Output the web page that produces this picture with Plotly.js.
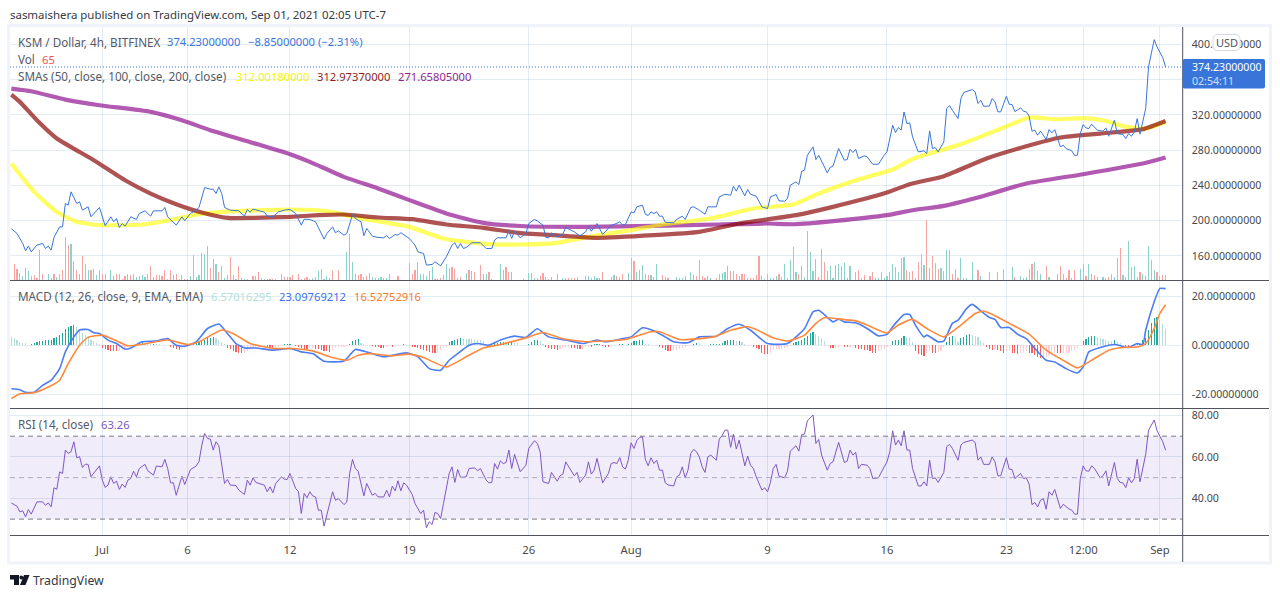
<!DOCTYPE html>
<html>
<head>
<meta charset="utf-8">
<script src="https://cdn.plot.ly/plotly-3.0.1.min.js"></script>
<style>html,body{margin:0;padding:0;background:#fff}#c{width:1280px;height:598px}</style>
</head>
<body>
<div id="c"></div>
<script>
// ---------- data (bar = 4h candle number, bar 0 = 2021-06-25 16:00) ----------
const priceBars=[0,2,4,5,6,7,9,11,12,13,14,15,17,18,19,20,21,23,24,25,27,28,31,33,35,36,37,38,39,40,42,44,45,47,49,50,53,54,55,58,60,61,63,65,66,68,70,71,72,73,74,75,77,80,82,83,84,85,89,90,92,94,96,98,100,102,103,105,107,108,110,111,113,114,115,117,118,120,121,123,124,125,127,129,131,132,133,135,136,137,138,140,142,143,145,146,148,149,151,153,155,156,157,158,159,160,162,165,167,169,170,171,174,175,176,177,179,181,182,184,185,187,188,189,190,192,194,195,198,200,202,203,204,206,208,211,212,214,215,216,218,219,220,222,223,224,225,226,227,228,229,230,233,234,236,237,239,240,242,244,245,248,249,251,253,254,255,256,258,259,260,262,264,266,267,269,270,272,273,274,276,277,278,279,280,282,283,284,287,288,289,291,293,294,295,296,297,298,300,301,303,305,307,308,310,311,312,313,314,315,316,317,319,321,322,323,324,325,326,328,329,330,331,333,334,335,338,339,340,341,342,344,345,346,347,348,350,351,352,353,355,356,357,358,359,360,361,362,364,365,366,367,369,370,371,373,374,375,376,377,378,379,380,382,384,385,386,388,389,391,392,393,394,395,396,397,399,400,402,403,405,406];
const priceVals=[191,185.5,174.2,165.9,171.2,164.7,172.3,174.2,168.5,171.2,166.6,181,193,193,219.5,217.6,232.7,219.5,221.4,212,215.7,204.4,215,194.2,204.4,198.7,202.5,192.3,196.8,193.8,204.4,201.4,208.2,211.2,205.2,211.2,211.2,215,204.4,195,204.4,199.9,208.2,212,215,237.6,235.7,235.7,230.8,238.4,230.8,215,212,211.2,205.2,212.7,209.7,213.1,209.7,205.2,204.4,210,212,212.7,208.2,195,201.8,201.4,198.7,192.3,179.1,185.5,193,186.3,188.5,183.6,185.5,207,202.5,198.7,182.9,191.2,182.5,181,180.6,183.2,179.8,184.4,183.6,186.3,184.4,179.8,172.3,164.7,162.8,149.6,150.4,153.4,148.9,159.1,172.3,175,168.5,174.2,168.5,169.6,175,175,168.5,168.5,178,180.6,180.6,188.5,179.8,188.2,180.6,185.5,196.8,201.4,199.8,194.9,181,180.6,186.2,181.7,184.7,192.3,187.4,182.8,187.4,193.8,188.1,196.8,184.4,194.9,195.7,198.7,194.9,195.7,210,208.9,215.7,217.6,207.4,205.9,210,208.1,210,205.1,205.1,198.3,197.6,201.4,205.1,201.4,215,215.7,211.9,207.4,215.7,215.7,227,230,228.9,239.1,233.5,240.3,228.2,235.3,230,227.8,215.7,213.8,227,229.7,222.5,222.1,225.1,240.3,244,241,256.1,257.3,274.2,283.7,269.3,274.2,254.2,260.3,261.8,281.8,268.6,269.3,281,277.3,281,270.5,273.5,272.4,264,264,274.2,278,308.2,299.9,305.6,302.6,323.3,310.1,310.9,295,278,279.2,276.1,301.8,281.8,282.9,278,289.4,327.1,330.5,325.2,315.8,338.5,345.3,348.7,346,332.8,336.6,329.8,329.8,338.5,334.7,323.4,323.4,341.1,332,331.7,323.7,327.9,324.1,323.4,318.5,301.5,302.6,297,301.5,292,303.3,299.6,303.3,283.7,285.6,281.8,279.2,273.9,274.3,298.8,309,305.2,304.5,309.4,302.6,301.5,305.2,295.8,313.9,298.8,297.7,293.1,298.8,295.8,300.7,315.8,298.1,327.1,374.4,405.3,397,384.9,374.23];

const sma50Bars=[0,8,16,23,31,46,57,66,78,98,111,123,140,152,160,170,179,192,201,218,229,246,261,275,284,299,310,317,334,349,358,367,377,384,392,399,406];
const sma50Vals=[264.8,232.7,210,198.7,195,195.7,201.4,207.4,210.8,212.7,210.8,202.5,193,179.8,176,173,173,174.9,180.6,189.3,195.7,202.5,213.8,218.3,230.8,247.8,258,270,286.7,305.6,317,315,316.2,313.9,306.4,304.5,312];
const sma100Bars=[0,3,9,16,29,40,49,58,67,76,85,98,108,117,129,141,153,166,179,191,206,226,242,256,276,289,308,316,328,343,357,369,383,398,406];
const sma100Vals=[343,334.7,313.9,293.2,268.6,245.9,230.8,218.7,209.3,203.2,203.2,204.4,206.3,207,203.6,201.7,195.7,191.9,185.9,183.6,180.6,183.6,187.4,196.8,206.3,215.7,231.9,241.4,250.5,270.5,284.4,294.3,298.8,303.7,312.97];
const sma200Bars=[0,7,19,31,49,60,70,85,98,105,117,129,140,153,166,179,202,226,249,266,275,290,308,317,328,340,357,377,398,406];
const sma200Vals=[349.8,346.8,337.3,330.9,323.4,313.9,302.6,288.2,275.4,266.7,249.7,236.5,223.3,208.2,197.6,194,193,194.2,195.7,196.8,196,199.8,206.3,211.9,216.8,226.3,242.1,252.7,264.8,271.66];

const volUpBars=[4,6,7,10,13,16,17,19,21,22,26,27,29,30,35,36,41,43,44,46,47,48,50,52,59,60,62,63,64,65,66,67,68,72,75,76,79,81,82,83,86,89,93,97,105,106,108,110,111,118,119,120,127,128,129,130,132,133,143,144,145,146,148,150,153,157,160,166,167,172,173,182,183,184,185,190,194,195,199,202,203,205,206,211,212,217,218,220,221,222,225,227,234,235,236,239,240,245,246,249,250,251,254,256,265,267,268,269,271,272,273,274,275,276,278,279,280,281,282,288,289,290,291,293,295,297,304,305,306,307,308,309,310,312,314,316,318,321,323,325,327,328,329,330,334,335,336,338,341,344,349,352,355,356,357,360,362,365,370,373,376,377,379,384,385,387,388,391,393,395,398,399,400,401,402];
const volUpVals=[52,121,52,390,78,43,78,563,468,251,217,130,152,65,139,52,87,78,43,65,43,87,43,65,22,65,22,52,325,43,65,355,338,217,35,65,22,35,22,22,52,22,22,43,22,35,121,22,52,368,606,238,43,35,35,43,35,78,238,87,78,52,173,22,217,35,95,78,78,208,130,95,95,30,30,39,30,30,43,61,61,61,30,43,74,95,294,108,130,203,74,216,43,30,30,113,74,61,30,82,95,113,126,61,17,30,30,61,43,216,30,268,437,113,182,43,645,372,126,182,30,203,216,225,190,108,30,30,113,30,52,113,216,113,303,113,30,203,165,225,165,126,398,398,294,30,30,242,52,104,152,173,52,35,43,234,78,43,87,35,152,208,217,43,35,78,43,65,511,182,78,61,442,260,139];
const volDownBars=[1,2,3,5,8,9,11,14,15,18,20,23,24,25,28,31,32,33,37,38,39,40,42,45,49,51,53,54,55,56,57,58,61,69,70,71,73,74,77,78,80,85,87,88,90,91,92,95,96,98,99,101,102,103,104,107,109,112,113,115,121,122,123,124,125,126,131,136,140,141,142,147,149,151,152,154,155,156,158,161,162,163,165,168,169,174,175,176,180,186,187,188,189,192,196,197,198,204,207,208,213,214,215,219,223,224,226,229,230,231,237,241,242,243,244,248,252,253,255,257,258,259,260,261,262,263,264,266,270,277,283,284,285,286,287,292,294,298,299,300,302,303,311,313,315,317,319,320,322,324,326,331,332,333,340,347,353,358,359,361,364,368,369,371,372,374,378,380,381,382,386,389,390,392,394,396,397,403,404,405,406];
const volDownVals=[208,152,95,160,65,35,78,30,87,139,455,130,87,312,130,130,78,78,87,78,22,52,65,52,182,65,52,130,22,139,65,78,22,442,165,281,108,182,303,65,182,52,108,35,22,22,22,78,43,43,65,78,22,30,43,43,152,35,130,130,87,65,87,43,52,95,35,52,225,87,139,121,22,35,65,165,173,152,43,130,121,108,195,108,22,173,108,108,17,61,95,43,26,87,30,30,30,30,30,113,52,39,87,255,82,74,43,74,39,30,52,52,268,52,30,30,182,126,87,87,87,30,30,30,74,320,52,87,87,87,277,43,411,242,126,190,30,139,30,74,61,113,178,286,139,117,242,346,788,320,147,87,147,30,139,104,43,152,217,121,182,87,190,35,139,139,52,87,65,43,43,286,424,43,173,43,104,104,52,65,65];

const macdBars=[0,3,5,8,11,14,17,19,22,24,27,29,31,34,37,40,42,46,51,55,58,61,65,69,73,76,79,82,86,92,98,102,106,110,117,121,126,131,139,143,147,151,154,157,161,164,168,172,177,181,185,189,195,201,206,209,215,218,222,226,230,233,238,242,248,252,256,260,266,273,279,282,284,289,291,293,297,301,305,308,310,312,314,316,318,321,322,326,328,331,333,336,338,341,344,346,348,351,354,357,360,364,367,371,375,377,379,383,388,393,396,398,399,402,404,406];
const macdVals=[-17.6,-18,-19,-19,-16.2,-14.1,-9.4,-2.6,3.5,6.3,6.5,5.2,4.9,2.2,.8,-1.5,-1,1.5,1.8,2.8,.1,-.3,1.5,6.9,8.7,4.9,.8,-1,-1,-1.9,-1.2,-2.6,-3.3,-6.4,-6.3,-1.6,-3,-4.6,-3,-4.6,-9.4,-10.1,-6,-3.3,.1,.8,.1,2.2,3.8,3.3,6.8,3.5,2.2,.8,2.2,1.5,2.8,3.5,7.2,6,3.5,1.5,1.1,3.5,3.8,6.9,8.6,6.2,.8,.8,6.9,13.7,14.3,9.6,10.7,9.6,9.2,6.9,3.9,4.5,7.6,10.3,12.6,12.6,8.3,3.5,4.2,1.5,1.8,9,10.3,15,16.7,14.1,11.4,10.6,7.3,7.3,4.5,2.8,-1.2,-6,-6.7,-9.4,-11.2,-8.7,-2.6,-.8,.4,-.8,.8,.4,6.2,17.8,23.2,23.1];
const signalBars=[0,3,8,13,17,20,24,27,32,36,41,46,55,62,66,74,78,84,92,99,106,113,118,122,126,134,140,145,153,160,166,172,181,187,194,202,209,216,225,228,235,240,247,253,259,262,268,273,279,283,286,293,297,301,308,312,317,322,328,334,339,342,346,351,358,364,371,375,380,386,391,396,399,402,404,406];
const signalVals=[-21.6,-19.6,-19.2,-16.9,-14.1,-7.4,.1,3.3,4.2,2.4,-.1,.5,2.2,.4,1.5,6.3,4.9,.8,-1.2,-1.2,-2.2,-4.9,-6,-4,-3.3,-4.2,-3.5,-4.9,-8.7,-4.6,-1,.4,3.1,5.3,2.7,1.5,1.8,2.4,5.6,5.6,2.4,2.6,3.5,6.2,7.6,6.5,3.1,1.8,4.2,9,11.3,10.5,10,8.3,5.1,8.3,10.6,6.9,3.5,8.3,13,14,12.1,9,4.6,-1.9,-6.7,-9.1,-6,-1.9,-.8,-.6,.8,6.9,13,16.53];
// one histogram value per bar, bar 0 .. bar 406
const macdHist=[3.3,2.9,2.2,1.5,1.2,1,.4,.8,1.1,1.5,
1.8,2,2.05,2.2,2.3,2.9,3.3,4.2,4.9,6.5,
7.6,8,8.3,7.6,6.5,5.2,4.2,3.3,2.4,1.8,
1.2,.8,-1.1,-1.5,-1.9,-2.2,-2.25,-2.3,-2.2,-1.8,
-1.5,-.5,-.2,.4,.8,1.1,1.4,1.2,1.1,.8,
.8,.7,.5,.4,.4,.2,-.5,-1.1,-1.6,-1.7,
-1.5,-1.2,-.3,.5,.8,1.1,1.5,2.2,2.4,2.9,
3.1,3.3,3,2.4,1.5,.8,-1.1,-1.6,-2.2,-2.6,
-2.9,-3,-2.9,-2.2,-1.6,-1.2,-.8,-.5,-.4,-.3,
-.5,-1.2,-1.6,-1.4,-.5,.3,.5,.5,.6,.3,
-.3,-.8,-1.2,-1.4,-1.6,-1.2,-1.1,-1.5,-1.6,-1.9,
-2.3,-2.4,-2.5,-1.9,-1.2,-.6,-.6,-.5,-.4,.8,
1.8,2.2,2.6,1.2,.8,.4,.3,-.3,-.5,-.8,
-.95,-1,-.7,-.3,-.5,-.2,.3,.35,.5,.4,
.4,-.5,-.8,-1.1,-1.5,-1.8,-2.2,-2.7,-3,-3.1,
-2.6,-1.9,-1.2,-.5,1.5,1.8,2.2,2.6,2.9,2.8,
2.7,2.65,2.6,2.4,2.3,2.2,1.9,.8,.5,.55,
1.1,1.2,1.4,1.5,1.3,1.5,1.6,1.2,1.1,.4,
.15,.15,.5,1.5,2.2,2.25,1.8,.8,-.8,-1.2,
-1.25,-1.6,-1.65,-1.6,-1.2,-.6,-.55,-1,-1.2,-1.25,
-1.3,-1.3,-.6,-.5,-.8,.5,.55,.6,-.3,-.55,
-.6,.3,.4,.4,.45,.45,.4,.5,1.1,1.8,
1.9,2.2,2.25,.8,.5,.4,.15,.1,-.7,-1,
-1.8,-2.2,-2.25,-2,-1.9,-1.5,-1,-.5,-.2,.4,
.8,1,.8,.4,.3,.15,.5,.55,.6,.7,
1.1,1.8,2.2,2.25,2.3,1.8,1.9,1.5,.8,.4,
.15,-.6,-1.2,-1.6,-2.9,-3.3,-3.4,-2.9,-1.9,-1.5,
-1.45,-1.4,-1.2,-.9,-.3,1.1,1.5,1.9,2.4,3.1,
3.9,5,5.6,4.5,4,2.9,1.8,.2,-.9,-1.2,
-1.1,-.9,.2,-.7,-.75,-.7,-.4,-1.1,-1.3,-1.6,
-1.8,-2,-2.4,-3,-3.1,-2.4,-2,-1.4,-.7,-.2,
1.9,2.3,2.4,3,3.9,3.4,3,1.6,-2.4,-3.4,
-3.8,-4.1,-3.1,-2.4,-3.1,-3.15,-2.7,-2.2,-.5,1.4,
3.3,3.9,3.6,1.6,3,3.3,4.4,4.6,4.4,3.9,
3.3,1.9,1.2,-.7,-1.5,-2,-1.4,-1.8,-2.4,-3.1,
-2.4,-2.4,-3.1,-3.15,-3.3,-3.1,-2.7,-2.4,-3.1,-3.15,
-4,-4.5,-4.9,-4.85,-4.5,-3.8,-3.5,-3.1,-3.15,-3.2,
-3.1,-3.05,-2.9,-2.4,-1.8,-1.1,-.3,1.9,2.7,3.3,
3.8,4,3.4,3,2.7,2.3,1.9,1.8,2.3,1.6,
1,.3,-.3,-.8,-.55,-.5,.55,.7,2.3,3,
6.4,9.1,11.2,11.6,10.5,8.9,6.57];

const rsiBars=[0,2,3,4,5,6,7,9,11,12,13,14,15,16,17,18,19,20,21,22,23,24,25,26,27,28,31,32,33,34,35,36,37,38,39,40,41,42,43,44,45,47,48,50,51,53,54,55,56,57,58,60,61,63,65,66,67,68,69,70,71,72,73,74,75,76,77,79,80,82,83,84,85,86,89,90,91,92,93,95,96,97,98,100,101,102,103,104,105,106,107,108,109,110,113,114,115,117,118,119,120,121,122,124,125,127,128,129,131,132,133,134,135,136,137,138,139,141,142,144,145,146,147,148,149,150,151,152,154,155,156,157,158,160,161,163,164,165,167,168,169,170,171,172,173,174,175,176,177,179,181,182,184,185,186,187,189,190,192,193,194,195,198,199,200,202,203,204,205,206,208,210,211,212,213,214,215,216,217,218,219,220,221,222,223,224,225,226,227,228,229,230,231,233,234,235,236,237,238,239,240,241,242,243,244,245,246,248,249,250,251,252,253,254,255,256,258,259,260,261,262,264,265,266,267,268,269,270,272,273,274,276,277,278,279,280,282,283,284,285,287,288,289,291,293,294,295,296,297,298,299,301,302,303,305,307,308,309,310,311,312,313,314,315,316,317,319,320,321,322,323,324,325,326,328,329,330,331,333,334,335,338,339,340,341,342,344,345,346,347,348,350,351,352,353,355,356,357,358,359,360,361,362,363,364,365,366,367,369,370,372,373,374,375,376,377,378,379,380,381,383,384,385,386,388,389,390,391,392,393,394,395,396,397,399,400,402,403,405,406];
const rsiVals=[37.8,36.2,33.5,34,31.1,34.6,32.4,38.3,38.3,36.7,37.8,35.9,45.1,44.4,52.8,52,63.3,61.7,62.5,67.3,59.6,60.1,54.9,56.5,56.4,50.4,55.7,48.8,45.3,46.4,50.4,47.2,48.3,44.3,46.9,45.3,48.8,49.6,53.1,50.4,54.4,56.4,53.3,51.2,55.6,55.2,58.8,54.4,47.5,47.5,41.5,50.7,46.7,53.9,55.6,57.7,65.7,71.3,68.9,68.6,63.3,67.3,65.4,56.8,47.2,49.1,46.4,46.2,44,41.9,48.8,46.4,49.9,47.7,46.4,43.2,45.6,42.7,47.2,50.4,49.3,49.1,52,44.8,43.2,32.7,42.4,40.3,43.2,41.2,40.7,34.3,34.3,26.6,43.2,39.1,39.9,37,38.3,52,58.8,54.4,53.1,41.2,47.2,41.5,42.4,40.7,40.7,44,40.7,45.9,43.6,48.5,43.6,47.5,46.4,41.9,37.5,32.7,34.3,25.9,28.7,27.4,33.2,32.7,30.3,37.5,52,55.2,47.7,53.9,50.1,50.4,54.4,54.7,53.3,54.4,48.8,47.5,47.7,56.8,54.1,58.1,56.8,57.3,63.3,54.4,61.2,52.8,56,64.1,67.8,66.5,62.5,48,47.2,52.5,48.3,50.9,51.7,57.6,50.9,52.5,47.7,51.2,57.6,51.7,53.6,59.3,47.5,52,56.8,57.3,56.8,59.7,55.2,54.1,58.4,66.8,64.1,67.8,69.4,69.7,58.9,55.7,59.6,56.8,58.4,53.6,53.6,47.5,46.5,46,50.4,51.2,55.2,49.9,53.6,61.7,63.6,62.5,60,55.2,52.5,60,60.9,58.4,68.6,70.2,72.9,72.9,64.6,71,63.8,68.1,55.7,60.4,56,54.4,50.4,44,45.1,43.2,47.7,54.4,56.4,50.7,49.9,53.1,62.8,65.4,62.8,70.8,71,77.4,80.2,66.5,68.4,60.9,53.6,56.8,57.6,67,57.3,58,63.3,60.9,62.2,54.4,56.4,56,54.4,49.6,49.9,55.2,57.6,62.5,72.6,65.7,68.1,65.4,72.6,63.3,63.3,54.4,46,46,48,46,58.4,49.6,49.9,47.7,52.5,64.9,66,64.1,58.4,65.7,67,68.1,67,58.4,60,56.4,56.4,60,57.6,50.9,50.9,59.6,54.1,53.9,49.6,52,49.6,49.9,46.9,37,38,35.9,39.1,39.9,34.8,43.2,41.5,44.3,35.1,37.2,34.9,34.3,32.4,32.4,49.6,55.7,53.3,53.1,55.7,54.4,49.9,50.9,53.3,46,57.3,49.6,47.7,47.5,45.2,49.9,47.5,49.6,58.9,48,61.2,72.9,77.8,72.6,67.3,63.26];

const priceTicks=[160,200,240,280,320,360,400];
const priceLabels=['160.00000000','200.00000000','240.00000000','280.00000000','320.00000000','','400.00000000'];
const macdTicks=[-20,0,20];
const macdLabels=['-20.00000000','0.00000000','20.00000000'];
const rsiTicks=[40,60,80];
const rsiLabels=['40.00','60.00','80.00'];
const timeTickBars=[32,62,98,140,182,218,266,308,350,377,404];
const timeTickLabels=['Jul','6','12','19','26','Aug','9','16','23','12:00','Sep'];

// ---------- helpers ----------
const W=1280,H=598;
const px=x=>x/W, py=y=>1-y/H;
const T0=Date.UTC(2021,5,25,16), BAR=4*3600*1000;
const d=b=>new Date(T0+b*BAR).toISOString().slice(0,19).replace('T',' ');
const ds=a=>a.map(d);
const left=10,right=1182.7;
const FONT='"Noto Sans", sans-serif';
const BLUE='#3975d9';
const AXISSIZE=10.6, LABELSIZE=11.7, VALUESIZE=11.2;

const histBars=macdHist.map((_,i)=>i);
const histColors=macdHist.map((v,i)=>{
  const p=i?macdHist[i-1]:v;
  if(v>=0) return v>=p&&i?'#26a69a':'#b2dfdb';
  return v<p?'#f75f5f':'#ffcdd2';
});

const barW=1.15/2.843*BAR;
const traces=[
 {type:'bar',x:ds(volUpBars),y:volUpVals,width:barW,marker:{color:'#8bd2ca',line:{width:0}},yaxis:'y',xaxis:'x'},
 {type:'bar',x:ds(volDownBars),y:volDownVals,width:barW,marker:{color:'#f6a4a1',line:{width:0}},yaxis:'y',xaxis:'x'},
 {type:'scatter',mode:'lines',x:ds(sma200Bars),y:sma200Vals,line:{color:'rgba(136,0,136,0.65)',width:4.2,shape:'spline',smoothing:0.5},yaxis:'y2',xaxis:'x'},
 {type:'scatter',mode:'lines',x:ds(sma50Bars),y:sma50Vals,line:{color:'rgba(255,255,0,0.62)',width:4.2,shape:'spline',smoothing:0.5},yaxis:'y2',xaxis:'x'},
 {type:'scatter',mode:'lines',x:ds(sma100Bars),y:sma100Vals,line:{color:'rgba(136,0,0,0.68)',width:4.2,shape:'spline',smoothing:0.5},yaxis:'y2',xaxis:'x'},
 {type:'scatter',mode:'lines',x:ds(priceBars),y:priceVals,line:{color:BLUE,width:1},yaxis:'y2',xaxis:'x'},
 {type:'bar',x:ds(histBars),y:macdHist,width:barW,marker:{color:histColors,line:{width:0}},yaxis:'y3',xaxis:'x'},
 {type:'scatter',mode:'lines',x:ds(macdBars),y:macdVals,line:{color:'#4d7df2',width:1.6,shape:'spline',smoothing:0.5},yaxis:'y3',xaxis:'x'},
 {type:'scatter',mode:'lines',x:ds(signalBars),y:signalVals,line:{color:'#ff8a3d',width:1.6,shape:'spline',smoothing:0.5},yaxis:'y3',xaxis:'x'},
 {type:'scatter',mode:'lines',x:ds(rsiBars),y:rsiVals,line:{color:'#7e57c2',width:1},yaxis:'y4',xaxis:'x'}
];

const GRID='rgba(42,100,160,0.13)';
const yCommon={side:'right',anchor:'x',showgrid:true,gridcolor:GRID,gridwidth:1,zeroline:false,showline:false,
  ticks:'outside',ticklen:6,tickcolor:'rgba(0,0,0,0)',tickfont:{family:FONT,size:AXISSIZE,color:'#4a4a4a'},tickmode:'array',fixedrange:true};

const ln=(x0,y0,x1,y1,c,w)=>({type:'line',xref:'paper',yref:'paper',x0:px(x0),y0:py(y0),x1:px(x1),y1:py(y1),line:{color:c,width:w||1},layer:'above'});
const rr=(x0,y0,x1,y1,r,fill,stroke)=>({type:'path',xref:'paper',yref:'paper',layer:'above',
  path:`M${px(x0+r)},${py(y0)} L${px(x1-r)},${py(y0)} Q${px(x1)},${py(y0)} ${px(x1)},${py(y0+r)} L${px(x1)},${py(y1-r)} Q${px(x1)},${py(y1)} ${px(x1-r)},${py(y1)} L${px(x0+r)},${py(y1)} Q${px(x0)},${py(y1)} ${px(x0)},${py(y1-r)} L${px(x0)},${py(y0+r)} Q${px(x0)},${py(y0)} ${px(x0+r)},${py(y0)} Z`,
  fillcolor:fill,line:{color:stroke||fill,width:stroke?1:0}});
const poly=(pts,fill)=>({type:'path',xref:'paper',yref:'paper',layer:'above',
  path:'M'+pts.map(p=>px(p[0])+','+py(p[1])).join(' L')+' Z',fillcolor:fill,line:{width:0}});

const xRangeLo=d(-0.47), xRangeHi=d((right-10)/2.843-0.47);
const band=(v,c,dash)=>({type:'line',xref:'x',yref:'y4',x0:xRangeLo,x1:xRangeHi,y0:v,y1:v,line:{color:c,width:1,dash:dash},layer:'above'});

const FRAME='#f0f3fa', AXIS='#50535e';
const shapes=[
 {type:'rect',xref:'paper',yref:'paper',x0:px(8.5),y0:py(25.5),x1:px(1270.5),y1:py(563),line:{color:FRAME,width:3},fillcolor:'rgba(0,0,0,0)',layer:'below'},
 {type:'rect',xref:'x',yref:'y4',x0:xRangeLo,x1:xRangeHi,y0:30,y1:70,fillcolor:'#f0ecf9',line:{width:0},layer:'below'},
 band(70,'#787b86','5px,4px'),band(50,'#b0abc0','5px,4px'),band(30,'#787b86','5px,4px'),
 {type:'line',xref:'paper',yref:'y2',x0:px(10),x1:px(right),y0:374.23,y1:374.23,line:{color:BLUE,width:1,dash:'1px,2px'},layer:'above'},
 ln(10,280.5,1269,280.5,AXIS),ln(10,408.5,1269,408.5,AXIS),ln(10,535.5,1269,535.5,AXIS),ln(right,27,right,562,AXIS),
 rr(right,59,1265,88.5,2,BLUE),
 rr(1213,34.5,1240,50.5,5,'#ffffff','#d6d8e4'),
 poly([[10,575],[19,575],[19,585],[14,585],[14,579.5],[10,579.5]],'#131722'),
 {type:'circle',xref:'paper',yref:'paper',x0:px(19.4),x1:px(23.2),y0:py(579.4),y1:py(575.6),fillcolor:'#131722',line:{width:0},layer:'above'},
 poly([[24,575],[29.5,575],[25.5,585],[20,585]],'#131722')
];

const txt=(x,y,t,c,size,anchor)=>({xref:'paper',yref:'paper',x:px(x),y:py(y),text:t,showarrow:false,xanchor:anchor||'left',yanchor:'middle',
  font:{family:FONT,size:size||LABELSIZE,color:c},borderpad:0,borderwidth:0});
const GREY='#555a66';
const annotations=[
 txt(10,14.5,'sasmaishera published on TradingView.com, Sep 01, 2021 02:05 UTC-7','#363a45',11.45),
 txt(18,42,'KSM / Dollar, 4h, BITFINEX',GREY),
 txt(167,42,'374.23000000',BLUE,VALUESIZE),txt(247.5,42,'−8.85000000 (−2.31%)',BLUE,VALUESIZE),
 txt(18,59,'Vol',GREY),txt(41.5,59,'65','#ef5350',VALUESIZE),
 txt(18,76,'SMAs (50, close, 100, close, 200, close)',GREY),
 txt(236,76,'312.00180000','#f5f500',VALUESIZE),txt(317,76,'312.97370000','#8f1d1d',VALUESIZE),txt(398,76,'271.65805000','#8f1f8f',VALUESIZE),
 txt(18,296,'MACD (12, 26, close, 9, EMA, EMA)',GREY),
 txt(211,296,'6.57016295','#b2dfdb',VALUESIZE),txt(279,296,'23.09769212','#3d70f0',VALUESIZE),txt(354,296,'16.52752916','#f57c2a',VALUESIZE),
 txt(18,424,'RSI (14, close)',GREY),txt(101,424,'63.26','#7e57c2',VALUESIZE),
 txt(1192,67.5,'374.23000000','#ffffff',AXISSIZE),txt(1192,81,'02:54:11','#cfe0fb',AXISSIZE),
 txt(1226.5,42.5,'USD','#50535e',11,'center'),
 txt(33,580.5,'TradingView','#363a45',12.3)
];

const layout={
 width:W,height:H,margin:{l:0,r:0,t:0,b:0,pad:0},paper_bgcolor:'#fff',plot_bgcolor:'rgba(0,0,0,0)',
 showlegend:false,hovermode:false,bargap:0,barmode:'overlay',
 xaxis:{type:'date',domain:[px(left),px(right)],range:[xRangeLo,xRangeHi],anchor:'y4',tickmode:'array',
   tickvals:ds(timeTickBars),ticktext:timeTickLabels,showgrid:true,gridcolor:GRID,gridwidth:1,zeroline:false,showline:false,
   ticks:'outside',ticklen:4,tickcolor:'rgba(0,0,0,0)',tickfont:{family:FONT,size:11.3,color:'#4a4a4a'},fixedrange:true},
 yaxis:{domain:[py(280.5),py(27)],range:[0,3290],visible:false,anchor:'x',fixedrange:true},
 yaxis2:Object.assign({},yCommon,{domain:[py(280.5),py(27)],overlaying:'y',range:[132.2,419.6],tickvals:priceTicks,ticktext:priceLabels}),
 yaxis3:Object.assign({},yCommon,{domain:[py(408.5),py(281)],range:[-25.6,26.2],tickvals:macdTicks,ticktext:macdLabels}),
 yaxis4:Object.assign({},yCommon,{domain:[py(535.5),py(409)],range:[22.1,83.1],tickvals:rsiTicks,ticktext:rsiLabels}),
 shapes:shapes,annotations:annotations
};
Plotly.newPlot('c',traces,layout,{staticPlot:true,displayModeBar:false});
</script>
</body>
</html>
